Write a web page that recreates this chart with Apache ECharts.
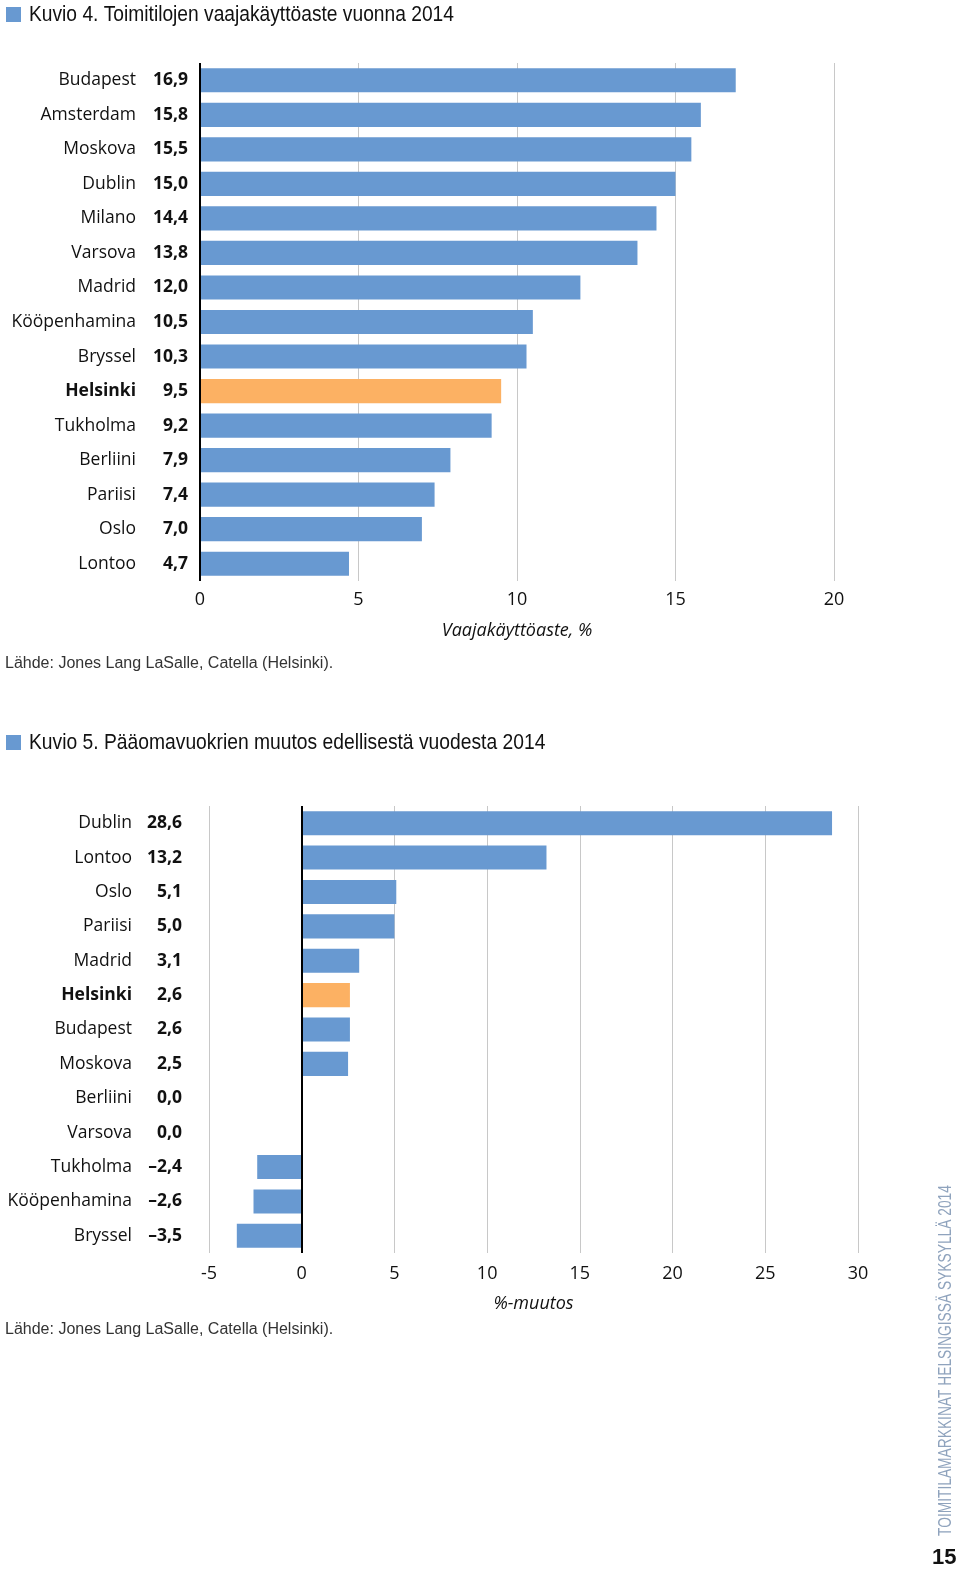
<!DOCTYPE html>
<html>
<head>
<meta charset="utf-8">
<script src="https://cdn.jsdelivr.net/npm/echarts@6/dist/echarts.min.js"></script>
<style>
html,body{margin:0;padding:0;background:#fff;}
#c{width:960px;height:1571px;}
</style>
</head>
<body>
<div id="c"></div>
<script>
// Kuvio 4
const cities1 = ['Budapest','Amsterdam','Moskova','Dublin','Milano','Varsova','Madrid','Kööpenhamina','Bryssel','Helsinki','Tukholma','Berliini','Pariisi','Oslo','Lontoo'];
const vacancy = [16.9,15.8,15.5,15.0,14.4,13.8,12.0,10.5,10.3,9.5,9.2,7.9,7.4,7.0,4.7];
const ticks1 = [0,5,10,15,20];
// Kuvio 5
const cities2 = ['Dublin','Lontoo','Oslo','Pariisi','Madrid','Helsinki','Budapest','Moskova','Berliini','Varsova','Tukholma','Kööpenhamina','Bryssel'];
const rentChange = [28.6,13.2,5.1,5.0,3.1,2.6,2.6,2.5,0.0,0.0,-2.4,-2.6,-3.5];
const ticks2 = [-5,0,5,10,15,20,25,30];

const title1 = 'Kuvio 4. Toimitilojen vaajakäyttöaste vuonna 2014';
const title2 = 'Kuvio 5. Pääomavuokrien muutos edellisestä vuodesta 2014';
const source = 'Lähde: Jones Lang LaSalle, Catella (Helsinki).';
const sideText = 'TOIMITILAMARKKINAT HELSINGISSÄ SYKSYLLÄ 2014';
const pageNo = '15';
const highlight = 'Helsinki';

const BLUE = '#6899D1';
const ORANGE = '#FCB163';
const LBL_FONT = '"Open Sans", "DejaVu Sans", sans-serif';
const COND_FONT = '"Liberation Sans Narrow", "Liberation Sans", sans-serif';

function fmt(v){
  const s = Math.abs(v).toFixed(1).replace('.', ',');
  return (v < 0 ? '\u2013' : '') + s;
}

function catLabels(cities, values, valW){
  return {
    formatter: function(name){
      const i = cities.indexOf(name);
      const key = name === highlight ? 'nb' : 'n';
      return '{' + key + '|' + name + '}{v|' + fmt(values[i]) + '}';
    },
    rich: {
      n: {fontFamily: LBL_FONT, fontSize: 17.5, color: '#111', align: 'right'},
      nb: {fontFamily: LBL_FONT, fontSize: 17.5, color: '#111', fontWeight: 'bold', align: 'right'},
      v: {fontFamily: LBL_FONT, fontSize: 17.5, color: '#111', fontWeight: 'bold', align: 'right', width: valW}
    }
  };
}

const chart = echarts.init(document.getElementById('c'), null, {renderer: 'canvas'});

function barData(cities, values){
  return values.map((v, i) => ({
    value: v,
    itemStyle: {color: cities[i] === highlight ? ORANGE : BLUE}
  }));
}

const option = {
  animation: false,
  backgroundColor: '#fff',
  grid: [
    {left: 200, right: 126, top: 63, height: 518},
    {left: 209, right: 102, top: 806, height: 447}
  ],
  xAxis: [
    {
      gridIndex: 0, type: 'value', min: ticks1[0], max: ticks1[ticks1.length-1], interval: 5,
      axisLine: {show: false}, axisTick: {show: false},
      splitLine: {show: true, lineStyle: {color: '#c8c8c8', width: 1}},
      axisLabel: {fontFamily: LBL_FONT, fontSize: 18, color: '#111', margin: 10},
      name: 'Vaajakäyttöaste, %', nameLocation: 'middle', nameGap: 41,
      nameTextStyle: {fontFamily: LBL_FONT, fontSize: 18, fontStyle: 'italic', color: '#111'}
    },
    {
      gridIndex: 1, type: 'value', min: ticks2[0], max: ticks2[ticks2.length-1], interval: 5,
      axisLine: {show: false}, axisTick: {show: false},
      splitLine: {show: true, lineStyle: {color: '#c8c8c8', width: 1}},
      axisLabel: {fontFamily: LBL_FONT, fontSize: 18, color: '#111', margin: 12},
      name: '%-muutos', nameLocation: 'middle', nameGap: 42,
      nameTextStyle: {fontFamily: LBL_FONT, fontSize: 18, fontStyle: 'italic', color: '#111'}
    }
  ],
  yAxis: [
    {
      gridIndex: 0, type: 'category', data: cities1, inverse: true,
      axisLine: {show: false}, axisTick: {show: false},
      axisLabel: Object.assign({margin: 12}, catLabels(cities1, vacancy, 52))
    },
    {
      gridIndex: 1, type: 'category', data: cities2, inverse: true,
      axisLine: {show: false}, axisTick: {show: false},
      axisLabel: Object.assign({margin: 27}, catLabels(cities2, rentChange, 50))
    }
  ],
  series: [
    {
      type: 'bar', xAxisIndex: 0, yAxisIndex: 0, data: barData(cities1, vacancy),
      barCategoryGap: '30%',
      markLine: {
        silent: true, symbol: 'none', label: {show: false},
        lineStyle: {color: '#000', width: 2, type: 'solid'},
        data: [{xAxis: 0}]
      }
    },
    {
      type: 'bar', xAxisIndex: 1, yAxisIndex: 1, data: barData(cities2, rentChange),
      barCategoryGap: '30%',
      markLine: {
        silent: true, symbol: 'none', label: {show: false},
        lineStyle: {color: '#000', width: 2, type: 'solid'},
        data: [{xAxis: 0}]
      }
    }
  ],
  graphic: [
    {type: 'rect', shape: {x: 6, y: 7, width: 15, height: 15}, style: {fill: BLUE}},
    {type: 'text', x: 29, y: 4, scaleX: 0.873, style: {text: title1, font: '22px ' + COND_FONT, fill: '#111'}},
    {type: 'text', x: 5, y: 656, style: {text: source, font: '16px "Liberation Sans", Arial, sans-serif', fill: '#333'}},
    {type: 'rect', shape: {x: 6, y: 735, width: 15, height: 15}, style: {fill: BLUE}},
    {type: 'text', x: 29, y: 732, scaleX: 0.876, style: {text: title2, font: '22px ' + COND_FONT, fill: '#111'}},
    {type: 'text', x: 5, y: 1322, style: {text: source, font: '16px "Liberation Sans", Arial, sans-serif', fill: '#333'}},
    {type: 'text', x: 936, y: 1536, rotation: Math.PI/2, scaleX: 0.725,
      style: {text: sideText, font: '19px ' + COND_FONT, fill: '#8fa3bd', textAlign: 'left', textVerticalAlign: 'top'}},
    {type: 'text', x: 932, y: 1547, style: {text: pageNo, font: 'bold 22px "Liberation Sans", Arial, sans-serif', fill: '#111'}}
  ]
};
chart.setOption(option);
</script>
</body>
</html>
